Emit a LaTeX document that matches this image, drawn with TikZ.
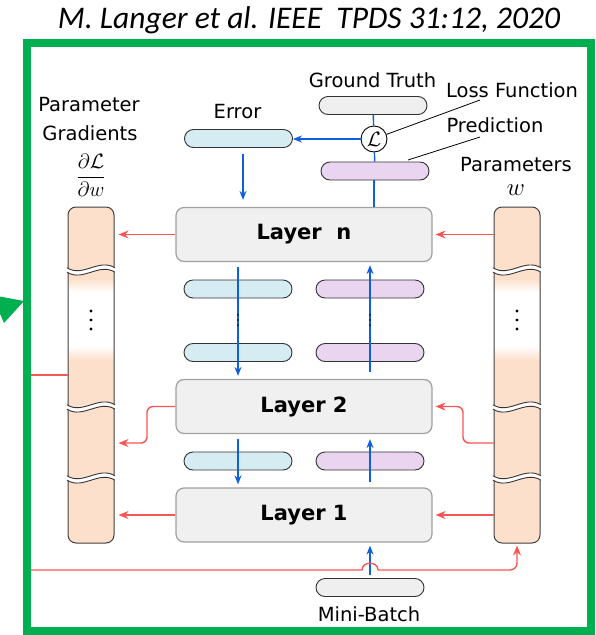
\documentclass[tikz,border=0pt]{standalone}
\usepackage{amsmath}
\usepackage{fontspec}
\setmainfont{DejaVu Sans}
\newfontfamily\titlefont{Carlito}
\usetikzlibrary{arrows.meta}
\definecolor{peach}{RGB}{253,224,204}
\definecolor{pillblue}{RGB}{214,236,243}
\definecolor{pillpurple}{RGB}{234,213,241}
\definecolor{pillgray}{RGB}{239,239,239}
\definecolor{layerfill}{RGB}{240,240,240}
\definecolor{layerdraw}{RGB}{160,160,160}
\definecolor{arrblue}{RGB}{15,95,220}
\definecolor{arrred}{RGB}{250,85,85}
\definecolor{framegreen}{RGB}{0,176,80}
\tikzset{
  layerbox/.style={draw=layerdraw, line width=1.2pt, fill=layerfill, rounded corners=8pt,
    minimum width=256pt, minimum height=54pt, inner sep=0pt,
    font=\fontsize{21}{24}\selectfont\bfseries},
  pill/.style={draw=black!80, line width=0.9pt, rounded corners=9pt,
    minimum width=108pt, minimum height=18pt, inner sep=0pt},
  lbl/.style={inner sep=0pt, text height=14pt, text depth=0pt,
    font=\fontsize{19.5}{23}\selectfont},
  colbox/.style={draw=black!75, line width=1pt, rounded corners=8pt,
    minimum width=46pt, minimum height=336pt, inner sep=0pt},
  barr/.style={draw=arrblue, line width=1.4pt, -{Stealth[length=9pt,width=7pt]}},
  bline/.style={draw=arrblue, line width=1.4pt},
  rarr/.style={draw=arrred, line width=1.4pt, -{Stealth[length=10pt,width=8pt]}},
  rline/.style={draw=arrred, line width=1.4pt},
  leader/.style={draw=black, line width=0.8pt},
}
\begin{document}
\begin{tikzpicture}[x=1pt,y=-1pt]
\useasboundingbox (0,0) rectangle (595,635);

% title
\node[inner sep=0pt, anchor=base, font=\titlefont\itshape\fontsize{31.5}{34}\selectfont] (title) at (309,28)
  {M. Langer et al. IEEE\ \ TPDS 31:12, 2020};

% frame and green arrowhead
\draw[framegreen, line width=8.5pt] (27,43) rectangle (591,631);
\fill[framegreen] (-8,295) -- (24,301) -- (4,323) -- cycle;

% parameter columns
\foreach \cx/\nm in {91/gl,517/gr}{
  \fill[peach, rounded corners=8pt] (\cx-23,207) rectangle (\cx+23,543);
  \fill[white] (\cx-23,291) rectangle (\cx+23,347);
  \shade[top color=peach, bottom color=white] (\cx-23,279) rectangle (\cx+23,292);
  \shade[top color=white, bottom color=peach] (\cx-23,346) rectangle (\cx+23,360);
  \node[colbox] (\nm) at (\cx,375) {};
  \foreach \yy in {311,320,329}{ \fill (\cx,\yy) circle (1.6pt); }
  \foreach \by in {270,407,478}{
    \begin{scope}[shift={(\cx,\by)}]
      \fill[white] (-24,-2.2) .. controls (-8,7.8) and (8,-12.2) .. (24,-2.2)
        -- (24,2.2) .. controls (8,-7.8) and (-8,12.2) .. (-24,2.2) -- cycle;
      \draw[black!80, line width=0.9pt] (-24,-2.2) .. controls (-8,7.8) and (8,-12.2) .. (24,-2.2);
      \draw[black!80, line width=0.9pt] (-24,2.2) .. controls (-8,12.2) and (8,-7.8) .. (24,2.2);
    \end{scope}
  }
}

% layers
\node[layerbox] (ln) at (304,234.5) {Layer\ \ n};
\node[layerbox] (l2) at (304,406.5) {Layer 2};
\node[layerbox] (l1) at (304,515) {Layer 1};

% pills
\node[pill, fill=pillblue] (b1) at (238,289) {};
\node[pill, fill=pillblue] (b2) at (238,352.5) {};
\node[pill, fill=pillblue] (b3) at (238,461) {};
\node[pill, fill=pillpurple] (p1) at (370,289) {};
\node[pill, fill=pillpurple] (p2) at (370,352.5) {};
\node[pill, fill=pillpurple] (p3) at (370,461) {};
\node[pill, fill=pillblue] (err) at (238.5,138.5) {};
\node[pill, fill=pillgray] (gt) at (373,105.5) {};
\node[pill, fill=pillpurple] (pred) at (375,171) {};
\node[pill, fill=pillgray] (mb) at (370,587.5) {};
\node[draw, circle, line width=0.9pt, fill=white, minimum size=26pt, inner sep=0pt,
  font=\fontsize{21}{24}\selectfont] (loss) at (374,139) {$\mathcal{L}$};

% top blue connectors
\draw[bline] (gt) -- (loss);
\draw[bline] (loss) -- (pred);
\draw[bline] (pred.south -| loss) -- (ln.north -| loss);
\draw[barr] (loss) -- (loss -| err.east);
\draw[barr, shorten <=6pt, shorten >=7pt] ([xshift=4.5pt]err.south) -- ([xshift=4.5pt]err.south |- ln.north);

% blue arrows between layers
\draw[barr, shorten <=5pt, shorten >=3pt] (b1.center |- ln.south) -- (b1.center |- l2.north);
\draw[barr, shorten <=7pt, shorten >=3pt] (p1.center |- l2.north) -- (p1.center |- ln.south);
\draw[barr, shorten <=5pt, shorten >=3pt] (b3.center |- l2.south) -- (b3.center |- l1.north);
\draw[barr, shorten <=5pt, shorten >=5pt] (p3.center |- l1.north) -- (p3.center |- l2.south);
\draw[barr, shorten <=3pt, shorten >=3pt] (mb.north) -- (mb.north |- l1.south);
\foreach \yy in {315,320,325}{
  \fill (238,\yy) circle (0.8pt);
  \fill (370,\yy) circle (0.8pt);
}

% red arrows
\draw[rarr, shorten >=4pt] (ln.west) -- (ln.west -| gl.east);
\draw[rarr, shorten >=3pt] (ln.east -| gr.west) -- (ln.east);
\draw[rarr, shorten >=4pt] (l1.west) -- (l1.west -| gl.east);
\draw[rarr, shorten >=3pt] (l1.east -| gr.west) -- (l1.east);
\coordinate (el) at (147,443);
\coordinate (er) at (463,443);
\draw[rarr, rounded corners=6pt, shorten >=4pt] (l2.west) -| (el) -- (el -| gl.east);
\draw[rarr, rounded corners=6pt, shorten >=3pt] (er -| gr.west) -- (er) |- (l2.east);
\coordinate (fb) at (31,375);
\draw[rline] (fb) -- (gl.west);
\coordinate (bb) at (31,570);
\coordinate (h1) at (362,570);
\coordinate (h2) at (378,570);
\draw[rline] (bb) -- (h1) .. controls (362,561) and (378,561) .. (h2);
\draw[rarr, rounded corners=7pt, shorten >=2pt] (h2) -| (gr.south);

% labels
\node[lbl] (tgt) at (372.5,80.5) {Ground Truth};
\node[lbl] (terr) at (237.5,111.5) {Error};
\node[lbl] (tloss) at (512,90) {Loss Function};
\node[lbl] (tpred) at (495,125) {Prediction};
\node[lbl] (tpar) at (516,164) {Parameters};
\node[inner sep=0pt, font=\fontsize{24}{28}\selectfont] (tw) at (516,190) {$w$};
\node[lbl] (tpg1) at (89,104) {Parameter};
\node[lbl] (tpg2) at (90,133) {Gradients};
\node[inner sep=0pt, font=\fontsize{22}{27}\selectfont] (tfrac) at (91,175) {$\dfrac{\partial\mathcal{L}}{\partial w}$};
\node[lbl] (tmb) at (369,614) {Mini-Batch};
\coordinate (lossend) at (480,100);
\coordinate (predend) at (480,137);
\draw[leader] (loss) -- (lossend);
\draw[leader] (408,160) -- (predend);
\end{tikzpicture}
\end{document}
